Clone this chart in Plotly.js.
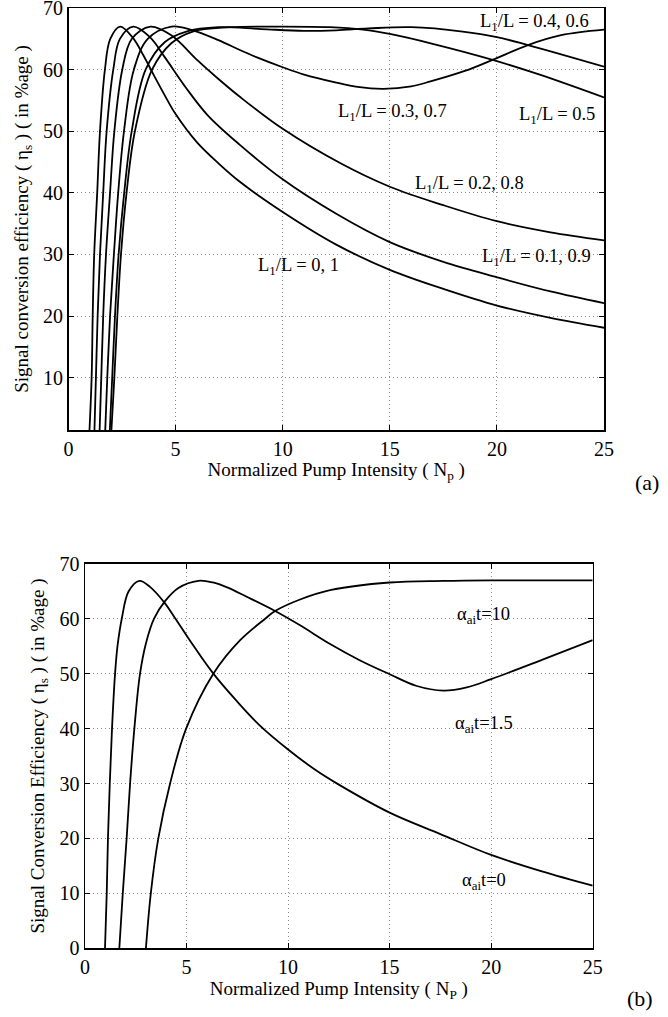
<!DOCTYPE html>
<html>
<head>
<meta charset="utf-8">
<script src="https://cdn.plot.ly/plotly-3.0.1.min.js"></script>
<style>html,body{margin:0;padding:0;background:#fff;}#chart{width:668px;height:1017px;}</style>
</head>
<body>
<div id="chart"></div>
<script>
// ---------- Panel (a): L1/L curves ----------
const a_L0_x  = [0.96, 1.08, 1.13, 1.20, 1.34, 1.47, 1.70, 1.95, 2.41, 3.0, 3.5, 4.0, 4.5, 5.0, 6.0, 7.0, 8.0, 10.0, 12.5, 15.0, 17.5, 20.0, 22.5, 25.0];
const a_L0_y  = [0, 10, 20, 30, 40, 50, 60, 65, 67.0, 65.2, 62.3, 59.0, 55.8, 52.8, 48.2, 44.8, 41.8, 36.9, 31.6, 27.5, 24.4, 21.7, 19.7, 18.1];

const a_L01_x = [1.20, 1.28, 1.36, 1.47, 1.62, 1.78, 2.09, 2.40, 3.02, 3.8, 4.5, 5.5, 6.5, 8.0, 10.0, 12.5, 15.0, 17.5, 20.0, 22.5, 25.0];
const a_L01_y = [0, 10, 20, 30, 40, 50, 60, 65, 67.0, 65.3, 62.0, 57.0, 52.6, 47.8, 42.2, 36.6, 32.0, 28.8, 26.3, 24.0, 22.1];

const a_L02_x = [1.44, 1.53, 1.62, 1.75, 1.94, 2.14, 2.51, 2.95, 3.82, 4.8, 6.0, 7.0, 8.0, 10.0, 12.7, 15.0, 17.5, 20.0, 22.5, 25.0];
const a_L02_y = [0, 10, 20, 30, 40, 50, 60, 65, 67.0, 65.6, 61.6, 58.5, 55.6, 50.4, 44.8, 41.0, 38.0, 35.4, 33.6, 32.3];

const a_L03_x = [1.70, 1.81, 1.94, 2.12, 2.32, 2.59, 3.05, 3.70, 4.8, 5.8, 7.0, 8.0, 8.8, 10.0, 11.0, 12.5, 13.5, 14.7, 16.0, 16.9, 18.5, 19.8, 21.45, 23.0, 25.0];
const a_L03_y = [0, 10, 20, 30, 40, 50, 60, 65, 67.0, 66.4, 64.8, 63.2, 62.0, 60.4, 59.2, 57.9, 57.2, 56.9, 57.3, 58.1, 59.8, 61.6, 64.0, 65.6, 66.5];

const a_L04_x = [1.91, 2.04, 2.17, 2.34, 2.60, 2.95, 3.60, 4.5, 5.5, 7.0, 9.0, 11.0, 12.5, 14.0, 16.0, 18.4, 20.0, 21.45, 23.0, 25.0];
const a_L04_y = [0, 10, 20, 30, 40, 50, 60, 64.5, 66.2, 66.9, 66.6, 66.3, 66.4, 66.7, 66.9, 66.2, 65.3, 64.0, 62.5, 60.5];

const a_L05_x = [1.98, 2.14, 2.28, 2.45, 2.71, 3.10, 3.90, 4.8, 5.8, 7.5, 10.0, 12.2, 13.75, 15.0, 17.0, 19.8, 22.0, 25.0];
const a_L05_y = [0, 10, 20, 30, 40, 50, 60, 64.3, 66.2, 66.9, 67.0, 66.9, 66.5, 65.8, 64.2, 61.6, 59.2, 55.5];

// ---------- Panel (b): alpha_ai t curves ----------
const b_a0_x  = [0.985, 1.07, 1.13, 1.22, 1.33, 1.48, 1.60, 1.81, 2.15, 2.68, 3.2, 3.94, 4.35, 5.3, 6.32, 7.5, 8.6, 10.0, 11.3, 12.5, 15.0, 17.5, 20.0, 22.5, 25.0];
const b_a0_y  = [0, 10, 20, 30, 40, 50, 55, 60, 65, 66.9, 65.8, 62.8, 60.6, 55.3, 50.0, 44.9, 40.6, 36.2, 32.6, 29.8, 24.7, 20.8, 17.0, 14.0, 11.4];

const b_a15_x = [1.69, 1.86, 2.05, 2.22, 2.43, 2.71, 3.0, 3.4, 3.94, 4.6, 5.58, 6.3, 7.0, 7.96, 9.36, 10.59, 12.07, 13.5, 15.0, 16.3, 17.65, 18.8, 20.0, 22.5, 25.0];
const b_a15_y = [0, 10, 20, 30, 40, 50, 55.5, 60, 63.2, 65.6, 66.9, 66.6, 65.7, 64.0, 61.4, 58.8, 55.4, 52.5, 49.9, 47.8, 46.9, 47.5, 49.0, 52.5, 56.1];

const b_a10_x = [3.0, 3.24, 3.61, 4.19, 4.98, 6.32, 7.64, 8.87, 9.36, 10.59, 12.07, 15.0, 17.65, 20.0, 25.0];
const b_a10_y = [0, 10, 20, 30, 40, 50, 56.1, 60.0, 61.4, 63.5, 65.2, 66.6, 66.9, 67.0, 67.0];

// tick values
const xTicks = [0, 5, 10, 15, 20, 25];
const yTicksA = [10, 20, 30, 40, 50, 60, 70];
const yTicksB = [0, 10, 20, 30, 40, 50, 60, 70];

const FONT = 'Liberation Serif';
const lineStyle = {color: '#000', width: 1.8, shape: 'spline', smoothing: 1.0};

function tr(x, y, xa, ya) {
  return {x: x, y: y, xaxis: xa, yaxis: ya, mode: 'lines', line: lineStyle, hoverinfo: 'skip', showlegend: false};
}

const data = [
  tr(a_L0_x, a_L0_y, 'x', 'y'),
  tr(a_L01_x, a_L01_y, 'x', 'y'),
  tr(a_L02_x, a_L02_y, 'x', 'y'),
  tr(a_L03_x, a_L03_y, 'x', 'y'),
  tr(a_L04_x, a_L04_y, 'x', 'y'),
  tr(a_L05_x, a_L05_y, 'x', 'y'),
  tr(b_a0_x, b_a0_y, 'x2', 'y2'),
  tr(b_a15_x, b_a15_y, 'x2', 'y2'),
  tr(b_a10_x, b_a10_y, 'x2', 'y2')
];

const axBase = {
  showline: true, linecolor: '#000', linewidth: 1.5, mirror: 'ticks',
  ticks: 'inside', ticklen: 5, tickwidth: 1, tickcolor: '#000',
  showgrid: true, gridcolor: '#8c8c8c', griddash: '1px,3px', gridwidth: 1,
  zeroline: false, ticklabeloverflow: 'allow',
  tickfont: {family: FONT, size: 20, color: '#000'}
};

const layout = {
  width: 668, height: 1017,
  margin: {l: 0, r: 0, t: 0, b: 0},
  paper_bgcolor: '#fff', plot_bgcolor: '#fff',
  font: {family: FONT, color: '#000', size: 18},
  showlegend: false,
  xaxis: Object.assign({}, axBase, {
    domain: [68.5/668, 604/668], range: [0, 25], tickvals: xTicks, anchor: 'y',
    title: {text: 'Normalized Pump Intensity ( N<sub>p</sub> )', font: {family: FONT, size: 19, color: '#000'}, standoff: 2}
  }),
  yaxis: Object.assign({}, axBase, {
    domain: [1 - 430/1017, 1 - 8/1017], range: [1.5, 70.02], tickvals: yTicksA, anchor: 'x',
    title: {text: 'Signal conversion efficiency ( η<sub>s</sub> ) ( in %age )', font: {family: FONT, size: 19, color: '#000'}, standoff: 9}
  }),
  xaxis2: Object.assign({}, axBase, {
    domain: [85/668, 592.7/668], range: [0, 25], tickvals: xTicks, anchor: 'y2',
    title: {text: 'Normalized Pump Intensity ( N<sub>P</sub> )', font: {family: FONT, size: 19, color: '#000'}, standoff: 1}
  }),
  yaxis2: Object.assign({}, axBase, {
    domain: [1 - 948.3/1017, 1 - 563.7/1017], range: [0, 70.02], tickvals: yTicksB, anchor: 'x2',
    title: {text: 'Signal Conversion Efficiency ( η<sub>s</sub> ) ( in %age )', font: {family: FONT, size: 19, color: '#000'}, standoff: 10}
  }),
  annotations: [
    {xref: 'x', yref: 'y', x: 19.1, y: 67.6, xanchor: 'left', yanchor: 'middle', showarrow: false, text: 'L<sub>1</sub>/L = 0.4, 0.6', font: {family: FONT, size: 18.5, color: '#000'}},
    {xref: 'x', yref: 'y', x: 12.5, y: 53.1, xanchor: 'left', yanchor: 'middle', showarrow: false, text: 'L<sub>1</sub>/L = 0.3, 0.7', font: {family: FONT, size: 18.5, color: '#000'}},
    {xref: 'x', yref: 'y', x: 20.95, y: 52.5, xanchor: 'left', yanchor: 'middle', showarrow: false, text: 'L<sub>1</sub>/L = 0.5', font: {family: FONT, size: 18.5, color: '#000'}},
    {xref: 'x', yref: 'y', x: 16.1, y: 41.3, xanchor: 'left', yanchor: 'middle', showarrow: false, text: 'L<sub>1</sub>/L = 0.2, 0.8', font: {family: FONT, size: 18.5, color: '#000'}},
    {xref: 'x', yref: 'y', x: 19.2, y: 29.5, xanchor: 'left', yanchor: 'middle', showarrow: false, text: 'L<sub>1</sub>/L = 0.1, 0.9', font: {family: FONT, size: 18.5, color: '#000'}},
    {xref: 'x', yref: 'y', x: 8.75, y: 28.1, xanchor: 'left', yanchor: 'middle', showarrow: false, text: 'L<sub>1</sub>/L = 0, 1', font: {family: FONT, size: 18.5, color: '#000'}},
    {xref: 'x2', yref: 'y2', x: 18.2, y: 60.5, xanchor: 'left', yanchor: 'middle', showarrow: false, text: 'α<sub>ai</sub>t=10', font: {family: FONT, size: 18.5, color: '#000'}},
    {xref: 'x2', yref: 'y2', x: 18.1, y: 40.7, xanchor: 'left', yanchor: 'middle', showarrow: false, text: 'α<sub>ai</sub>t=1.5', font: {family: FONT, size: 18.5, color: '#000'}},
    {xref: 'x2', yref: 'y2', x: 18.45, y: 12.2, xanchor: 'left', yanchor: 'middle', showarrow: false, text: 'α<sub>ai</sub>t=0', font: {family: FONT, size: 18.5, color: '#000'}},
    {xref: 'paper', yref: 'paper', x: 647/668, y: 1 - 483/1017, xanchor: 'center', yanchor: 'middle', showarrow: false, text: '(a)', font: {family: FONT, size: 22, color: '#000'}},
    {xref: 'paper', yref: 'paper', x: 640/668, y: 1 - 998/1017, xanchor: 'center', yanchor: 'middle', showarrow: false, text: '(b)', font: {family: FONT, size: 22, color: '#000'}}
  ]
};

Plotly.newPlot('chart', data, layout, {staticPlot: true, displayModeBar: false});
</script>
</body>
</html>
